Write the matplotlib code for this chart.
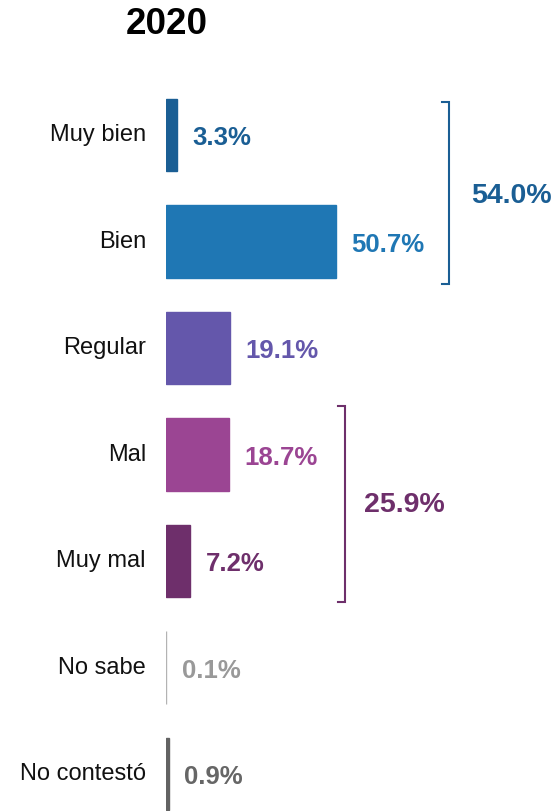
import matplotlib
matplotlib.use("Agg")
import matplotlib.pyplot as plt

plt.rcParams['font.family'] = ['Liberation Sans', 'DejaVu Sans']

categories = ['Muy bien', 'Bien', 'Regular', 'Mal', 'Muy mal', 'No sabe', 'No contestó']
values = [3.3, 50.7, 19.1, 18.7, 7.2, 0.1, 0.9]
bar_colors = ['#1a5e94', '#1f77b4', '#6457ab', '#9b4593', '#6e2f6b', '#b3b3b3', '#636363']
text_colors = ['#1a5e94', '#1f77b4', '#6457ab', '#9b4593', '#6e2f6b', '#999999', '#666666']
groups = [('54.0%', 0, 1, '#1a5e94'), ('25.9%', 3, 4, '#6e2f6b')]
title = '2020'

W, H = 556, 811
fig = plt.figure(figsize=(W / 100, H / 100), dpi=100)
ax = fig.add_axes([166 / W, 0, 390 / W, 729.25 / H])

ypos = list(range(len(categories)))
ax.barh(ypos, values, height=0.68, color=bar_colors, edgecolor=bar_colors,
        linewidth=1.0, left=0)
ax.set_xlim(0, 116.3)
ax.set_ylim(6.347, -0.5)

for y, v, c in zip(ypos, values, text_colors):
    ax.text(v + 4.6, y + 0.03, f'{v:.1f}%', color=c, fontsize=18.5,
            fontweight='bold', va='center', ha='left')

for y, lab in zip(ypos, categories):
    ax.text(-6, y, lab, fontsize=17, ha='right', va='center', color='#111111')

# brackets for the grouped totals
br = [(84.4, -0.31, 1.40, 91, 0.57), (53.4, 2.545, 4.385, 59, 3.47)]
for (txt, i0, i1, col), (bx, y0, y1, tx, ty) in zip(groups, br):
    ax.plot([bx - 2.1, bx, bx, bx - 2.1], [y0, y0, y1, y1], color=col,
            lw=1.5, solid_joinstyle='miter')
    ax.text(tx, ty, txt, color=col, fontsize=20.5, fontweight='bold',
            ha='left', va='center')

ax.axis('off')
fig.text(167 / W, 1 - 24 / H, title, fontsize=26.5, fontweight='bold',
         ha='center', va='center')

fig.savefig('out.png', dpi=100)
